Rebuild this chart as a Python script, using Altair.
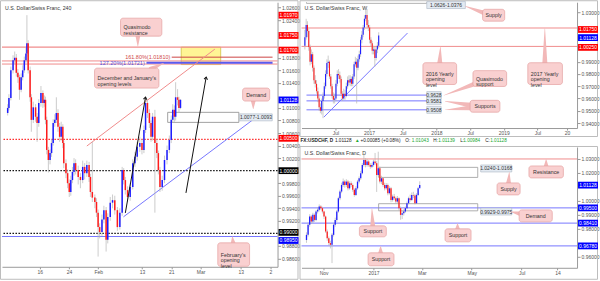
import altair as alt
import pandas as pd

FONT = "Liberation Sans"
TXT = "#333333"
UP, DOWN, WICK = "#1c1cff", "#ff1c1c", "#b5b5b5"
LRED, DRED, LBLUE, FBLUE = "#f08c8c", "#cc4444", "#7676ff", "#5a5af0"
RED, BLUE, BLACK = "#ff0000", "#0000ff", "#000000"
PINK, PINK_S, PINK_T = "#f9d0d0", "#e4a0a0", "#f2b8b8"
INFO, INFO_S = "#e3eaf2", "#a9b5c3"
FRAME = "#bdbdbd"

# ---------------- H4 (240) candles ----------------
h4_time = [7.24, 7.58, 8.11, 8.71, 9.16, 9.60, 10.03, 10.47, 10.92, 11.34,
           11.79, 12.24, 12.50, 12.84, 13.37, 13.71, 14.24, 14.87, 15.29, 15.74,
           16.34, 16.87, 17.24, 17.58, 17.92, 18.37, 18.82, 19.24, 19.68, 20.13,
           20.55, 21.00, 21.45, 21.87, 22.32, 22.58, 23.18, 23.63, 24.08, 24.50,
           24.95, 25.39, 25.82, 26.53, 27.13, 27.76, 28.29, 28.89, 29.50, 29.87,
           30.39, 31.08, 31.53, 31.97, 32.39, 33.03, 33.55, 34.16, 34.61, 35.29,
           35.92, 36.53, 37.24, 37.92, 38.55, 38.97, 39.42, 40.03, 40.74, 41.45,
           42.05, 42.66, 43.37, 43.97, 44.50, 44.95, 45.47, 46.00, 46.45, 46.87,
           47.50, 48.03, 48.45, 48.89, 49.50, 50.13, 50.82, 51.45, 51.97, 52.39,
           52.84, 53.18, 53.71, 54.08, 54.50]
h4_first_open = 1.0092
h4_close = [1.0100, 1.0116, 1.0160, 1.0176, 1.0180, 1.0156, 1.0149, 1.0129, 1.0149, 1.0160,
            1.0176, 1.0187, 1.0203, 1.0160, 1.0117, 1.0081, 1.0101, 1.0086, 1.0076, 1.0108,
            1.0124, 1.0108, 1.0113, 1.0081, 1.0033, 1.0017, 1.0028, 1.0044, 1.0076, 1.0081,
            1.0092, 1.0070, 1.0054, 1.0070, 1.0044, 1.0012, 0.9996, 0.9980, 0.9966, 0.9985,
            0.9998, 1.0012, 1.0001, 0.9990, 0.9985, 1.0006, 0.9996, 1.0009, 0.9990, 0.9966,
            0.9957, 0.9950, 0.9933, 0.9910, 0.9902, 0.9922, 0.9937, 0.9890, 0.9926, 0.9949,
            0.9953, 0.9937, 0.9910, 0.9933, 1.0001, 0.9985, 0.9969, 0.9958, 0.9974, 1.0012,
            1.0022, 1.0038, 1.0044, 1.0033, 1.0065, 1.0108, 1.0092, 1.0076, 1.0054, 1.0086,
            1.0044, 1.0028, 1.0001, 0.9974, 0.9985, 1.0017, 1.0033, 1.0049, 1.0081, 1.0097,
            1.0086, 1.0117, 1.0113, 1.0100, 1.0113]
h4_high = [1.0106, 1.0122, 1.0166, 1.0184, 1.0190, 1.0186, 1.0162, 1.0153, 1.0155, 1.0168,
           1.0182, 1.0196, 1.0248, 1.0208, 1.0166, 1.0122, 1.0110, 1.0106, 1.0092, 1.0114,
           1.0135, 1.0128, 1.0120, 1.0118, 1.0086, 1.0038, 1.0034, 1.0050, 1.0082, 1.0090,
           1.0117, 1.0098, 1.0076, 1.0078, 1.0074, 1.0048, 1.0018, 1.0002, 0.9986, 0.9992,
           1.0006, 1.0020, 1.0018, 1.0008, 0.9996, 1.0016, 1.0012, 1.0016, 1.0014, 0.9995,
           1.0046, 0.9962, 0.9956, 0.9938, 0.9916, 0.9930, 0.9944, 0.9942, 0.9932, 0.9958,
           0.9962, 0.9960, 0.9942, 0.9940, 1.0006, 1.0004, 0.9990, 0.9975, 0.9980, 1.0018,
           1.0030, 1.0046, 1.0054, 1.0050, 1.0072, 1.0117, 1.0112, 1.0098, 1.0080, 1.0092,
           1.0097, 1.0050, 1.0032, 1.0006, 0.9992, 1.0024, 1.0040, 1.0056, 1.0088, 1.0106,
           1.0104, 1.0141, 1.0130, 1.0118, 1.0114]
h4_low = [1.0088, 1.0096, 1.0112, 1.0155, 1.0170, 1.0150, 1.0140, 1.0113, 1.0125, 1.0144,
          1.0156, 1.0172, 1.0182, 1.0155, 1.0110, 1.0062, 1.0076, 1.0078, 1.0046, 1.0070,
          1.0102, 1.0100, 1.0102, 1.0074, 1.0026, 0.9997, 1.0010, 1.0022, 1.0040, 1.0070,
          1.0076, 1.0062, 1.0046, 1.0048, 1.0036, 1.0004, 0.9988, 0.9972, 0.9958, 0.9960,
          0.9980, 0.9992, 0.9994, 0.9978, 0.9972, 0.9980, 0.9986, 0.9990, 0.9982, 0.9958,
          0.9950, 0.9940, 0.9926, 0.9863, 0.9892, 0.9896, 0.9916, 0.9871, 0.9884, 0.9920,
          0.9940, 0.9930, 0.9904, 0.9906, 0.9928, 0.9978, 0.9962, 0.9950, 0.9952, 0.9970,
          1.0006, 1.0016, 1.0030, 1.0026, 1.0028, 1.0060, 1.0084, 1.0068, 1.0046, 1.0048,
          0.9933, 1.0020, 0.9994, 0.9966, 0.9968, 0.9980, 1.0010, 1.0028, 1.0044, 1.0076,
          1.0078, 1.0080, 1.0104, 1.0092, 1.0098]
h4_xticks = [16, 24, 32, 44, 52, 60, 71, 79.1]
h4_xlabels = ["16", "24", "Feb", "13", "21", "Mar", "13", "2"]
h4_yticks = [0.986, 0.988, 0.992, 0.994, 0.996, 0.998, 1.002, 1.004, 1.006,
             1.008, 1.010, 1.014, 1.016, 1.018, 1.024, 1.026]

# ---------------- Weekly candles ----------------
w_start, w_step = 2016.047, 1 / 52
w_first_open = 1.0030
w_close = [1.0100, 1.0200, 1.0150, 1.0020, 0.9900, 0.9960, 0.9850, 0.9750, 0.9720, 0.9660,
           0.9600, 0.9530, 0.9500, 0.9580, 0.9620, 0.9700, 0.9800, 0.9890, 0.9900, 0.9780,
           0.9700, 0.9620, 0.9590, 0.9600, 0.9720, 0.9800, 0.9790, 0.9760, 0.9640, 0.9600,
           0.9640, 0.9620, 0.9700, 0.9750, 0.9730, 0.9760, 0.9720, 0.9780, 0.9880, 0.9900,
           0.9850, 0.9920, 0.9960, 1.0080, 1.0120, 1.0180, 1.0250, 1.0280, 1.0200, 1.0180,
           1.0080, 1.0050, 0.9990, 1.0000, 0.9930, 1.0000, 1.0030, 1.0113]
w_high = [1.0160, 1.0250, 1.0230, 1.0170, 1.0040, 1.0000, 0.9980, 0.9870, 0.9790, 0.9750,
          0.9690, 0.9620, 0.9560, 0.9600, 0.9650, 0.9730, 0.9830, 0.9920, 0.9950, 0.9910,
          0.9800, 0.9720, 0.9650, 0.9640, 0.9750, 0.9830, 0.9840, 0.9820, 0.9780, 0.9660,
          0.9680, 0.9670, 0.9730, 0.9780, 0.9790, 0.9790, 0.9780, 0.9800, 0.9900, 0.9940,
          0.9930, 0.9950, 0.9990, 1.0100, 1.0150, 1.0200, 1.0280, 1.0344, 1.0330, 1.0240,
          1.0200, 1.0100, 1.0070, 1.0030, 1.0020, 1.0020, 1.0060, 1.0140]
w_low = [1.0000, 1.0080, 1.0100, 0.9990, 0.9870, 0.9880, 0.9820, 0.9720, 0.9690, 0.9640,
         0.9570, 0.9500, 0.9480, 0.9470, 0.9440, 0.9600, 0.9680, 0.9780, 0.9850, 0.9760,
         0.9680, 0.9600, 0.9560, 0.9560, 0.9580, 0.9700, 0.9760, 0.9730, 0.9620, 0.9580,
         0.9590, 0.9590, 0.9610, 0.9680, 0.9710, 0.9700, 0.9700, 0.9700, 0.9760, 0.9860,
         0.9560, 0.9830, 0.9900, 0.9940, 1.0050, 1.0100, 1.0160, 1.0230, 1.0180, 1.0150,
         1.0050, 1.0020, 0.9960, 0.9960, 0.9860, 0.9910, 0.9970, 1.0010]
w_xticks = [2016.5, 2017, 2017.5, 2018, 2018.5, 2019, 2019.5, 2019.94]
w_xlabels = ["Jul", "2017", "Jul", "2018", "Jul", "2019", "Jul", "20"]
w_yticks = [0.94, 0.95, 0.96, 0.97, 0.98, 0.99, 1.03]

# ---------------- Daily candles ----------------
d_start, d_step = -82.0, 1.95
d_first_open = 0.9720
d_close = [0.9757, 0.9829, 0.9888, 0.9852, 0.9900, 0.9864, 0.9924, 0.9936, 0.9960, 0.9948,
           0.9924, 0.9888, 0.9781, 0.9733, 0.9698, 0.9686, 0.9757, 0.9829, 0.9864, 0.9924,
           1.0019, 1.0067, 1.0114, 1.0138, 1.0114, 1.0138, 1.0090, 1.0126, 1.0114, 1.0079,
           1.0043, 1.0090, 1.0138, 1.0162, 1.0198, 1.0257, 1.0293, 1.0257, 1.0281, 1.0257,
           1.0245, 1.0257, 1.0281, 1.0269, 1.0186, 1.0233, 1.0138, 1.0162, 1.0114, 1.0090,
           1.0114, 1.0055, 1.0090, 1.0007, 1.0031, 1.0019, 0.9995, 1.0019, 0.9948, 0.9900,
           0.9912, 0.9924, 0.9948, 0.9983, 1.0019, 1.0007, 1.0043, 1.0038, 0.9983, 1.0043,
           1.0090, 1.0113]
d_high = [0.9775, 0.9845, 0.9905, 0.9900, 0.9915, 0.9910, 0.9935, 0.9955, 0.9975, 0.9970,
          0.9958, 0.9930, 0.9895, 0.9795, 0.9745, 0.9715, 0.9770, 0.9840, 0.9880, 0.9935,
          1.0030, 1.0080, 1.0130, 1.0160, 1.0150, 1.0155, 1.0150, 1.0140, 1.0140, 1.0125,
          1.0090, 1.0105, 1.0150, 1.0175, 1.0215, 1.0270, 1.0340, 1.0305, 1.0300, 1.0292,
          1.0270, 1.0272, 1.0295, 1.0343, 1.0285, 1.0352, 1.0245, 1.0180, 1.0170, 1.0130,
          1.0128, 1.0125, 1.0105, 1.0100, 1.0045, 1.0050, 1.0030, 1.0035, 1.0025, 0.9960,
          0.9930, 0.9940, 0.9960, 0.9995, 1.0030, 1.0045, 1.0060, 1.0065, 1.0050, 1.0055,
          1.0100, 1.0140]
d_low = [0.9700, 0.9745, 0.9815, 0.9835, 0.9840, 0.9850, 0.9855, 0.9910, 0.9925, 0.9935,
         0.9910, 0.9870, 0.9770, 0.9715, 0.9680, 0.9660, 0.9555, 0.9745, 0.9815, 0.9850,
         0.9915, 1.0005, 1.0055, 1.0100, 1.0095, 1.0100, 1.0075, 1.0080, 1.0100, 1.0065,
         1.0030, 1.0035, 1.0080, 1.0125, 1.0150, 1.0190, 1.0245, 1.0240, 1.0245, 1.0245,
         1.0230, 1.0235, 1.0245, 1.0255, 1.0064, 1.0175, 1.0125, 1.0120, 1.0100, 1.0075,
         1.0080, 1.0040, 1.0045, 0.9990, 0.9995, 1.0005, 0.9980, 0.9985, 0.9930, 0.9865,
         0.9870, 0.9895, 0.9915, 0.9940, 0.9975, 0.9995, 1.0000, 1.0020, 0.9975, 0.9978,
         1.0035, 1.0098]
d_xticks = [-61, 0, 59, 120, 181, 225]
d_xlabels = ["Nov", "2017", "Mar", "May", "Jul", "14"]
d_yticks = [0.96, 0.98, 0.99, 1.00, 1.02, 1.03]

# header line between the two right panels
hdr_text = ["FX:USDCHF, D", "1.01128", "\u25b2", "+0.00085 (+0.08%)", "O:", "1.01043",
            "H:", "1.01139", "L:", "1.00984", "C:", "1.01128"]
hdr_green = [False, False, True, False, False, True, False, True, False, True, False, True]
hdr_px = [-1, 33.5, 53.5, 59, 104, 110.5, 132, 137, 159, 162, 184, 189]

titles = ["U.S. Dollar/Swiss Franc, 240", "U.S. Dollar/Swiss Franc, W", "U.S. Dollar/Swiss Franc, D"]

ONE = pd.DataFrame({"a": [0]})


def ohlc(times, first_open, high, low, close):
    opens = [first_open] + close[:-1]
    return pd.DataFrame({"t": times, "o": opens, "h": high, "l": low, "c": close,
                         "dir": ["up" if c >= o else "down" for o, c in zip(opens, close)]})


def scales(xdom, ydom, xticks, xlabels, yticks):
    parts = [f"abs(datum.value - {v}) < 1e-6 ? '{s}'" for v, s in zip(xticks, xlabels)]
    expr = " : ".join(parts) + " : ''"
    common = dict(grid=False, title=None, labelFont=FONT, labelFontSize=5, labelColor="#555",
                  tickColor="#999", domainColor="#9a9a9a", labelOverlap=False)
    ax_x = alt.Axis(values=xticks, labelExpr=expr, tickSize=2, labelPadding=0.5,
                    labelFlush=False, **common)
    ax_y = alt.Axis(orient="right", values=yticks, format=".5f", tickSize=3, labelPadding=1,
                    **common)
    xs = alt.Scale(domain=xdom, nice=False, zero=False)
    ys = alt.Scale(domain=ydom, nice=False, zero=False)

    def X(f):
        return alt.X(f"{f}:Q", scale=xs, axis=ax_x)

    def Y(f):
        return alt.Y(f"{f}:Q", scale=ys, axis=ax_y)
    return X, Y


def candles(X, Y, df, w):
    b = alt.Chart(df)
    wick = b.mark_rule(color=WICK, strokeWidth=0.7).encode(x=X("t"), y=Y("l"), y2=alt.Y2("h:Q"))
    body = b.mark_bar(size=w).encode(
        x=X("t"), y=Y("o"), y2=alt.Y2("c:Q"),
        color=alt.Color("dir:N", scale=alt.Scale(domain=["up", "down"], range=[UP, DOWN]), legend=None))
    return [wick, body]


def hline(Y, p, color, width=1.0, dash=None):
    mk = dict(color=color, strokeWidth=width)
    if dash:
        mk["strokeDash"] = dash
    return alt.Chart(pd.DataFrame({"p": [p]})).mark_rule(**mk).encode(y=Y("p"))


def seg(X, Y, x1, x2, y1, y2, color, width=1.0):
    d = pd.DataFrame({"x": [x1, x2], "y": [y1, y2]})
    return alt.Chart(d).mark_line(color=color, strokeWidth=width).encode(x=X("x"), y=Y("y"))


def box(X, Y, x1, x2, y1, y2, **mk):
    d = pd.DataFrame({"x1": [x1], "x2": [x2], "y1": [y1], "y2": [y2]})
    return alt.Chart(d).mark_rect(**mk).encode(x=X("x1"), x2=alt.X2("x2:Q"), y=Y("y1"), y2=alt.Y2("y2:Q"))


def info(X, Y, x1, x2, p, s):
    d = pd.DataFrame({"x1": [x1], "x2": [x2], "xm": [(x1 + x2) / 2], "p": [p], "s": [s]})
    r = alt.Chart(d).mark_rect(fill=INFO, stroke=INFO_S, strokeWidth=0.6, yOffset=-3.5, y2Offset=3.5).encode(
        x=X("x1"), x2=alt.X2("x2:Q"), y=Y("p"), y2=alt.Y2("p:Q"))
    t = alt.Chart(d).mark_text(font=FONT, fontSize=5, color=TXT, align="center", baseline="middle").encode(
        x=X("xm"), y=Y("p"), text="s:N")
    return [r, t]


def callout(X, Y, x1, x2, y1, y2, s, tails, align="center"):
    out = []
    for bx, by, tx, ty in tails:
        d = pd.DataFrame({"x": [bx, tx], "y": [by, ty], "w": [5.0, 0.4], "k": [0, 1]})
        out.append(alt.Chart(d).mark_trail(color=PINK_T).encode(
            x=X("x"), y=Y("y"), size=alt.Size("w:Q", scale=None, legend=None), order=alt.Order("k:Q")))
    out.append(box(X, Y, x1, x2, y1, y2, fill=PINK, stroke=PINK_S, strokeWidth=0.7, cornerRadius=2.5))
    xt = (x1 + x2) / 2 if align == "center" else x1
    d = pd.DataFrame({"x": [xt], "y": [(y1 + y2) / 2], "s": [s]})
    out.append(alt.Chart(d).mark_text(font=FONT, fontSize=5.3, color=TXT, align=align, baseline="middle",
                                       lineBreak="\n", lineHeight=5.8,
                                       dx=0 if align == "center" else 3).encode(
        x=X("x"), y=Y("y"), text="s:N"))
    return out


def arrow(X, Y, x1, y1, x2, y2, angle):
    d = pd.DataFrame({"x": [x1, x2], "y": [y1, y2]})
    line = alt.Chart(d).mark_line(color="#111", strokeWidth=1).encode(x=X("x"), y=Y("y"))
    h = pd.DataFrame({"x": [x2], "y": [y2]})
    head = alt.Chart(h).mark_point(shape="M-0.55,0.75L0,0L0.55,0.75", size=40, stroke="#111",
                                   strokeWidth=1, filled=False, opacity=1, angle=angle).encode(
        x=X("x"), y=Y("y"))
    return [line, head]


def tags(Y, W, items):
    out = []
    for p, s, col, off in items:
        d = pd.DataFrame({"p": [p], "s": [s]})
        b = alt.Chart(d)
        out.append(b.mark_rect(color=col, yOffset=off - 3.4, y2Offset=off + 3.4).encode(
            x=alt.value(W + 1), x2=alt.value(W + 21), y=Y("p"), y2=alt.Y2("p:Q")))
        out.append(b.mark_text(color="white", font=FONT, fontSize=5, align="center",
                               baseline="middle", dy=off).encode(
            x=alt.value(W + 11), y=Y("p"), text="s:N"))
    return out


def frame(x1, x2, y1, y2):
    return alt.Chart(ONE).mark_rect(fillOpacity=0, stroke=FRAME, strokeWidth=1).encode(
        x=alt.value(x1), x2=alt.value(x2), y=alt.value(y1), y2=alt.value(y2))


def title(s):
    return alt.Chart(ONE).mark_text(font=FONT, fontSize=5.2, color=TXT, align="left", baseline="middle").encode(
        x=alt.value(3), y=alt.value(6), text=alt.value(s))


# ================= LEFT PANEL (H4) =================
LW, LH = 276, 265
X, Y = scales([7.05, 79.68], [0.98467, 1.02686], h4_xticks, h4_xlabels, h4_yticks)
L = [frame(-1.5, LW + 20.5, -1.5, LH + 12.5), title(titles[0])]
L.append(box(X, Y, 54.7, 65.5, 1.01692, 1.0197, fill="#fff27a", fillOpacity=0.8, stroke="#d2bf45", strokeWidth=0.8))
L += [hline(Y, 1.0197, LRED, 1.2), hline(Y, 1.0175, LRED), hline(Y, 1.0170, LRED),
      hline(Y, 1.005, "#ff2a2a", 1.3, [1.5, 1.5]), hline(Y, 1.0, "#111", 1.3, [1.5, 1.5]),
      hline(Y, 0.99, "#111", 1.3, [1.5, 1.5]), hline(Y, 0.9895, LBLUE, 1.0)]
L += [seg(X, Y, 52.1, 79.68, 1.0181, 1.0181, DRED, 1.0),
      seg(X, Y, 45.2, 79.68, 1.01721, 1.01721, FBLUE, 2.0),
      seg(X, Y, 28.89, 63.9, 1.00393, 1.01938, LRED, 1.0),
      seg(X, Y, 38.9, 74.2, 0.99263, 1.00807, LBLUE, 1.0)]
fib = pd.DataFrame({"t": [52.0, 45.0], "p": [1.0181, 1.01721],
                    "s": ["161.80%(1.01810)", "127.20%(1.01721)"], "c": ["#d04848", "#4f4fe0"]})
L.append(alt.Chart(fib).mark_text(font=FONT, fontSize=5.5, align="right", baseline="middle", dx=-1).encode(
    x=X("t"), y=Y("p"), text="s:N", color=alt.Color("c:N", scale=None, legend=None)))
L.append(box(X, Y, 51.0, 70.47, 1.0077, 1.0093, fillOpacity=0, stroke="#8a8a8a", strokeWidth=0.8))
L += candles(X, Y, ohlc(h4_time, h4_first_open, h4_high, h4_low, h4_close), 1.5)
L += info(X, Y, 70.7, 79.6, 1.0085, "1.0077-1.0093")
L += arrow(X, Y, 39.42, 0.99326, 44.95, 1.01174, 10)
L += arrow(X, Y, 56.0, 0.99645, 61.53, 1.01492, 10)
L += callout(X, Y, 38.1, 49.4, 1.02145, 1.02432, "Quasimodo\nresistance",
             [(42.84, 1.0216, 42.84, 1.0198)], "left")
L += callout(X, Y, 31.0, 48.6, 1.01317, 1.01635, "December and January's\nopening levels",
             [(46.5, 1.0162, 49.95, 1.01715)], "left")
L += callout(X, Y, 71.5, 78.9, 1.0111, 1.01317, "Demand", [(74.4, 1.0112, 74.4, 1.00985)])
L += callout(X, Y, 64.7, 73.4, 0.98475, 0.98849, "February's\nopening\nlevel",
             [(68.9, 0.9884, 68.7, 0.9895)], "left")
L += tags(Y, LW, [(1.0197, "1.01970", RED, -32), (1.0175, "1.01750", RED, -25.5),
                  (1.0170, "1.01700", RED, -14), (1.01128, "1.01128", BLUE, 0),
                  (1.005, "1.00500", RED, -1), (1.0, "1.00000", BLACK, 0),
                  (0.99, "0.99000", BLACK, -1), (0.9895, "0.98950", BLUE, 4)])
left = alt.layer(*L).properties(width=LW, height=LH)

# ================= TOP RIGHT (Weekly) =================
TW, TH = 276, 126
X, Y = scales([2016.071, 2020.014], [0.93597, 1.0385], w_xticks, w_xlabels, w_yticks)
T = [frame(-1.5, TW + 20.5, -1.5, TH + 8.5), title(titles[1])]
T.append(box(X, Y, 2016.071, 2017.857, 1.0376, 1.0626, fillOpacity=0, stroke="#9a9a9a", strokeWidth=0.8, clip=True))
T += [hline(Y, 1.0175, LRED), hline(Y, 1.0025, LRED)]
T += [seg(X, Y, 2016.071, 2017.857, v, v, LBLUE) for v in (0.9628, 0.9581, 0.9508)]
T.append(seg(X, Y, 2016.329, 2017.571, 0.94484, 1.01339, LBLUE))
w_times = [w_start + i * w_step for i in range(len(w_close))]
T += candles(X, Y, ohlc(w_times, w_first_open, w_high, w_low, w_close), 1.1)
T += info(X, Y, 2017.857, 2018.43, 1.0362, "1.0626-1.0376")
T += info(X, Y, 2017.857, 2018.07, 0.9628, "0.9628")
T += info(X, Y, 2017.857, 2018.07, 0.9581, "0.9581")
T += info(X, Y, 2017.857, 2018.07, 0.9508, "0.9508")
T += callout(X, Y, 2018.686, 2019.014, 1.02306, 1.03274, "Supply", [(2018.72, 1.0295, 2018.43, 1.0352)])
T += callout(X, Y, 2017.8, 2018.3, 0.97145, 0.98919, "2016 Yearly\nopening\nlevel",
             [(2018.05, 0.9890, 2018.06, 1.0022)], "left")
T += callout(X, Y, 2019.357, 2019.871, 0.97145, 0.98919, "2017 Yearly\nopening\nlevel",
             [(2019.61, 0.9890, 2019.61, 1.0172)], "left")
T += callout(X, Y, 2018.543, 2019.043, 0.96984, 0.98274, "Quasimodo\nsupport",
             [(2018.6, 0.9725, 2018.11, 0.9626)], "left")
T += callout(X, Y, 2018.5, 2018.943, 0.94887, 0.95855, "Supports",
             [(2018.52, 0.9545, 2018.13, 0.9578), (2018.52, 0.9525, 2018.13, 0.9508)])
T += tags(Y, TW, [(1.0175, "1.01750", RED, 1.5), (1.01128, "1.01128", BLUE, 2),
                  (1.0025, "1.00250", RED, 1)])
top = alt.layer(*T).properties(width=TW, height=TH)

# ================= BOTTOM RIGHT (Daily) =================
BW, BH = 276, 121
X, Y = scales([-82.0, 242.7], [0.95214, 1.03857], d_xticks, d_xlabels, d_yticks)
B = [frame(-1.5, BW + 20.5, -0.5, BH + 11.5), title(titles[2])]
for s, g, px in zip(hdr_text, hdr_green, hdr_px):
    B.append(alt.Chart(ONE).mark_text(font=FONT, fontSize=4.7, align="left", baseline="middle",
                                      color="#22a832" if g else "#222",
                                      fontWeight="bold" if px < 0 else "normal").encode(
        x=alt.value(px), y=alt.value(-6), text=alt.value(s)))
B += [hline(Y, 1.03, LRED), hline(Y, 0.995, LBLUE), hline(Y, 0.9841, LBLUE), hline(Y, 0.9678, LBLUE)]
B.append(box(X, Y, 6.2, 127.4, 1.0168, 1.0240, fillOpacity=0, stroke="#9a9a9a", strokeWidth=0.8))
B.append(box(X, Y, 6.2, 127.4, 0.9929, 0.9980, fillOpacity=0, stroke="#9a9a9a", strokeWidth=0.8))
d_times = [d_start + i * d_step for i in range(len(d_close))]
B += candles(X, Y, ohlc(d_times, d_first_open, d_high, d_low, d_close), 1.3)
B += info(X, Y, 131, 169, 1.0232, "1.0240-1.0168")
B += info(X, Y, 131, 169, 0.9924, "0.9929-0.9975")
B += callout(X, Y, 151, 179.2, 1.00429, 1.01286, "Supply", [(165, 1.0125, 166, 1.0205)])
B += callout(X, Y, 190, 232.1, 1.01643, 1.025, "Resistance", [(211, 1.0245, 211, 1.0298)])
B += callout(X, Y, 178, 218.5, 0.985, 0.99357, "Demand", [(180, 0.9907, 168, 0.9922)])
B += callout(X, Y, -17.3, 15.6, 0.97429, 0.98214, "Support", [(-1, 0.9818, -2, 0.9945)])
B += callout(X, Y, 87.4, 119.2, 0.97071, 0.98, "Support", [(102.7, 0.9797, 102.7, 0.9838)])
B += callout(X, Y, -6.7, 25, 0.95357, 0.96286, "Support", [(8.6, 0.9625, 8.6, 0.9675)])
B += tags(Y, BW, [(1.01128, "1.01128", BLUE, 0), (0.995, "0.99500", BLUE, 0),
                  (0.9841, "0.98410", BLUE, 0), (0.9678, "0.96780", BLUE, 0)])
bottom = alt.layer(*B).properties(width=BW, height=BH)

chart = alt.hconcat(
    left,
    alt.vconcat(top, bottom, spacing=19, bounds="flush"),
    spacing=24, bounds="flush",
).properties(
    padding={"left": 0, "top": 0, "right": 0, "bottom": 0}, background="white"
).configure_view(stroke=None)

chart.save("out.html", embed_options={"renderer": "svg", "actions": False})
